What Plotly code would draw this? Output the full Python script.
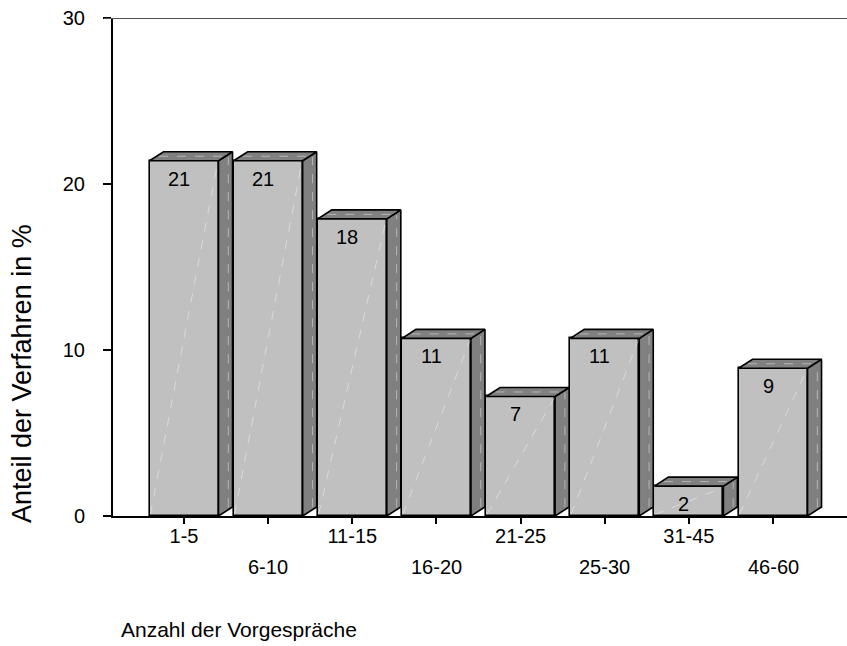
import plotly.graph_objects as go

# ---- data ----
categories = ["1-5", "6-10", "11-15", "16-20", "21-25", "25-30", "31-45", "46-60"]
values = [21.4, 21.4, 17.9, 10.7, 7.2, 10.7, 1.8, 8.9]
y_ticks = [0, 10, 20, 30]
x_title = "Anzahl der Vorgespräche"
y_title = "Anteil der Verfahren in %"

# ---- geometry / style ----
W, H = 847, 646
ML, MR, MT, MB = 113, 0, 18, 130
plot_w = W - ML - MR
plot_h = H - MT - MB
x_range = [-0.844, 7.879]
y_range = [0, 30]
bar_w = 0.82
px_x = plot_w / (x_range[1] - x_range[0])
px_y = plot_h / (y_range[1] - y_range[0])
dx = 14 / px_x
dy = 9 / px_y

FONT = "Liberation Sans, Arial, sans-serif"
FRONT = "#c0c0c0"
SIDE = "#808080"
FAINT = "rgba(255,255,255,0.42)"

xs = list(range(len(categories)))

fig = go.Figure()

# front faces
fig.add_trace(go.Bar(
    x=xs, y=values, width=bar_w,
    marker=dict(color=FRONT, line=dict(color="black", width=1.6)),
    hoverinfo="skip", showlegend=False,
))

# side and top faces
side_x, side_y, top_x, top_y = [], [], [], []
diag_x, diag_y = [], []
for i, v in zip(xs, values):
    xl = i - bar_w / 2
    xr = i + bar_w / 2
    side_x += [xr, xr + dx, xr + dx, xr, xr, None]
    side_y += [0, dy, v + dy, v, 0, None]
    top_x += [xl, xl + dx, xr + dx, xr, xl, None]
    top_y += [v, v + dy, v + dy, v, v, None]
    diag_x += [xl + 0.01, xr - 0.01, None,
               xl + dx / 2 + 0.03, xr + dx / 2 - 0.03, None,
               xr + dx * 0.7, xr + dx * 0.7, None]
    diag_y += [0.1, v - 0.1, None,
               v + dy / 2, v + dy / 2, None,
               dy * 0.7 + 0.15, v + dy * 0.7 - 0.15, None]

fig.add_trace(go.Scatter(
    x=side_x, y=side_y, mode="lines", fill="toself", fillcolor=SIDE,
    line=dict(color="black", width=1.6), hoverinfo="skip", showlegend=False,
))
fig.add_trace(go.Scatter(
    x=top_x, y=top_y, mode="lines", fill="toself", fillcolor=SIDE,
    line=dict(color="black", width=1.6), hoverinfo="skip", showlegend=False,
))
fig.add_trace(go.Scatter(
    x=diag_x, y=diag_y, mode="lines",
    line=dict(color=FAINT, width=1, dash="dash"), hoverinfo="skip", showlegend=False,
))

annotations = []
# value labels
for i, v in zip(xs, values):
    annotations.append(dict(
        x=i, y=v, xref="x", yref="y", text=f"{round(v)}", showarrow=False,
        xanchor="center", yanchor="middle", xshift=-5, yshift=-18,
        font=dict(family=FONT, size=20, color="black"),
    ))
# lower row of category labels
for i, c in zip(xs, categories):
    if i % 2 == 1:
        annotations.append(dict(
            x=i, y=-(567 - (MT + plot_h)) / plot_h, xref="x", yref="paper",
            text=c, showarrow=False, xanchor="center", yanchor="middle",
            font=dict(family=FONT, size=20, color="black"),
        ))
# axis titles
annotations.append(dict(
    x=(119 - ML) / plot_w, y=-(629 - (MT + plot_h)) / plot_h, xref="paper", yref="paper",
    text=x_title, showarrow=False, xanchor="left", yanchor="middle",
    font=dict(family=FONT, size=21, color="black"),
))
annotations.append(dict(
    x=(22 - ML) / plot_w, y=((MT + plot_h) - 374) / plot_h, xref="paper", yref="paper",
    text=y_title, showarrow=False, xanchor="center", yanchor="middle", textangle=-90,
    font=dict(family=FONT, size=27, color="black"),
))

fig.update_layout(
    width=W, height=H,
    margin=dict(l=ML, r=MR, t=MT, b=MB, pad=0),
    paper_bgcolor="white", plot_bgcolor="white",
    showlegend=False, bargap=0,
    annotations=annotations,
    shapes=[dict(type="line", xref="paper", yref="y", x0=-9 / plot_w, x1=1,
                 y0=30, y1=30, line=dict(color="#505050", width=2.2), layer="above")],
    xaxis=dict(
        range=x_range, tickmode="array", tickvals=xs,
        ticktext=[c if i % 2 == 0 else "" for i, c in zip(xs, categories)],
        showgrid=False, zeroline=False, showline=True, linecolor="black", linewidth=2,
        ticks="outside", ticklen=6, tickwidth=1.5, tickcolor="black",
        tickfont=dict(family=FONT, size=20, color="black"), ticklabelstandoff=-5,
        fixedrange=True,
    ),
    yaxis=dict(
        range=y_range, tickmode="array", tickvals=y_ticks,
        showgrid=False, zeroline=False, showline=True, linecolor="black", linewidth=2,
        ticks="outside", ticklen=8, tickwidth=1.5, tickcolor="black",
        tickfont=dict(family=FONT, size=20, color="black"), ticklabelstandoff=14,
        fixedrange=True,
    ),
)

fig.write_html(
    "out.html",
    config={"displayModeBar": False},
    post_script="document.body.style.margin='0';document.body.style.overflow='hidden';",
)
